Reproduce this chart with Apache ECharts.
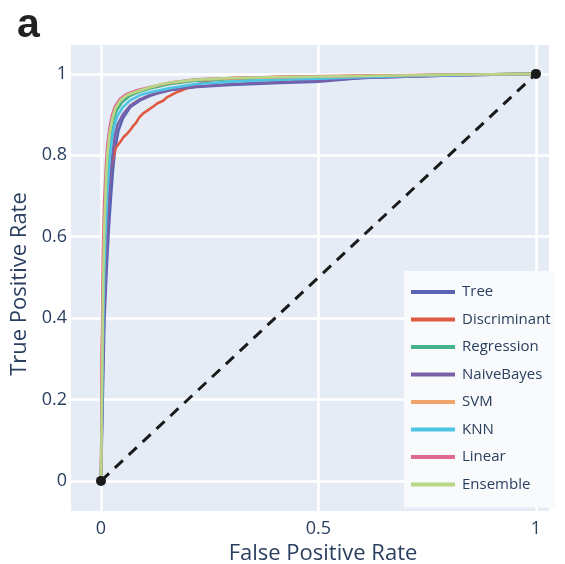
<!DOCTYPE html>
<html>
<head>
<meta charset="utf-8">
<script src="https://cdn.jsdelivr.net/npm/echarts@6/dist/echarts.min.js"></script>
<style>
  html, body { margin: 0; padding: 0; background: #ffffff; }
  #chart { width: 565px; height: 564px; }
</style>
</head>
<body>
<div id="chart"></div>
<script>
// ROC curves of eight classifiers: false positive rate (x) vs true positive rate (y)
const seriesNames = ['Tree', 'Discriminant', 'Regression', 'NaiveBayes', 'SVM', 'KNN', 'Linear', 'Ensemble'];
const seriesColors = ['#5b63b3', '#e05a43', '#45b48a', '#7b60a8', '#f0a36a', '#4ec3e3', '#e0678f', '#b7d787'];

const treeFpr = [0, 0.004, 0.008, 0.013, 0.018, 0.023, 0.028, 0.033, 0.04, 0.05, 0.067, 0.09, 0.113, 0.136, 0.159, 0.22, 0.297, 0.41, 0.5, 0.6, 0.8, 1];
const treeTpr = [0, 0.2, 0.4, 0.52, 0.62, 0.7, 0.77, 0.82, 0.86, 0.89, 0.918, 0.935, 0.946, 0.954, 0.96, 0.968, 0.973, 0.978, 0.981, 0.99, 0.996, 1];

const discriminantFpr = [0, 0.002, 0.005, 0.009, 0.014, 0.02, 0.027, 0.033, 0.037, 0.045, 0.052, 0.06, 0.067, 0.074, 0.08, 0.088, 0.097, 0.108, 0.12, 0.13, 0.143, 0.152, 0.16, 0.172, 0.182, 0.2, 0.22, 0.25, 0.3, 0.41, 0.6, 0.8, 1];
const discriminantTpr = [0, 0.3, 0.5, 0.62, 0.7, 0.75, 0.79, 0.815, 0.823, 0.834, 0.845, 0.853, 0.862, 0.872, 0.879, 0.893, 0.903, 0.911, 0.92, 0.928, 0.934, 0.943, 0.947, 0.954, 0.958, 0.966, 0.974, 0.984, 0.99, 0.993, 0.996, 0.998, 1];

const regressionFpr = [0, 0.003, 0.006, 0.009, 0.013, 0.017, 0.022, 0.028, 0.036, 0.048, 0.065, 0.09, 0.113, 0.159, 0.22, 0.3, 0.41, 0.6, 0.8, 1];
const regressionTpr = [0, 0.28, 0.5, 0.63, 0.74, 0.8, 0.85, 0.885, 0.91, 0.93, 0.945, 0.957, 0.964, 0.975, 0.983, 0.987, 0.99, 0.994, 0.998, 1];

const naiveBayesFpr = [0, 0.003, 0.007, 0.012, 0.016, 0.021, 0.026, 0.031, 0.038, 0.05, 0.067, 0.09, 0.113, 0.159, 0.22, 0.3, 0.41, 0.5, 0.6, 0.8, 1];
const naiveBayesTpr = [0, 0.2, 0.4, 0.55, 0.65, 0.74, 0.8, 0.845, 0.875, 0.9, 0.922, 0.938, 0.948, 0.961, 0.969, 0.975, 0.98, 0.984, 0.99, 0.996, 1];

const svmFpr = [0, 0.002, 0.005, 0.008, 0.012, 0.015, 0.02, 0.026, 0.033, 0.045, 0.06, 0.085, 0.113, 0.159, 0.22, 0.3, 0.41, 0.6, 0.8, 1];
const svmTpr = [0, 0.3, 0.52, 0.66, 0.76, 0.81, 0.858, 0.893, 0.916, 0.936, 0.948, 0.958, 0.967, 0.978, 0.986, 0.989, 0.991, 0.995, 0.998, 1];

const knnFpr = [0, 0.003, 0.006, 0.01, 0.014, 0.019, 0.024, 0.03, 0.038, 0.05, 0.067, 0.09, 0.113, 0.159, 0.22, 0.3, 0.41, 0.5, 0.6, 0.8, 1];
const knnTpr = [0, 0.25, 0.45, 0.6, 0.7, 0.78, 0.835, 0.87, 0.897, 0.918, 0.935, 0.948, 0.955, 0.965, 0.975, 0.981, 0.986, 0.988, 0.992, 0.997, 1];

const linearFpr = [0, 0.002, 0.004, 0.007, 0.011, 0.014, 0.019, 0.025, 0.032, 0.043, 0.058, 0.082, 0.113, 0.159, 0.22, 0.3, 0.41, 0.6, 0.8, 1];
const linearTpr = [0, 0.32, 0.55, 0.68, 0.77, 0.82, 0.865, 0.898, 0.92, 0.938, 0.95, 0.96, 0.968, 0.979, 0.987, 0.99, 0.992, 0.995, 0.998, 1];

const ensembleFpr = [0, 0.003, 0.005, 0.008, 0.012, 0.015, 0.02, 0.026, 0.033, 0.045, 0.06, 0.085, 0.113, 0.136, 0.159, 0.22, 0.3, 0.41, 0.6, 0.8, 1];
const ensembleTpr = [0, 0.3, 0.5, 0.64, 0.75, 0.805, 0.855, 0.89, 0.915, 0.936, 0.948, 0.958, 0.967, 0.974, 0.979, 0.986, 0.99, 0.992, 0.995, 0.998, 1];

// chance line
const chanceFpr = [0, 1];
const chanceTpr = [0, 1];

// tick labels
const xTicks = [0, 0.5, 1];
const yTicks = [0, 0.2, 0.4, 0.6, 0.8, 1];

const curves = [
  [treeFpr, treeTpr],
  [discriminantFpr, discriminantTpr],
  [regressionFpr, regressionTpr],
  [naiveBayesFpr, naiveBayesTpr],
  [svmFpr, svmTpr],
  [knnFpr, knnTpr],
  [linearFpr, linearTpr],
  [ensembleFpr, ensembleTpr]
];

const pair = (xs, ys) => xs.map((x, i) => [x, ys[i]]);

const textColor = '#2a3f5f';
const fontFamily = '"Open Sans", "Noto Sans", sans-serif';

const series = [{
  name: 'chance',
  type: 'line',
  data: pair(chanceFpr, chanceTpr),
  symbol: 'circle',
  symbolSize: 10,
  showSymbol: true,
  itemStyle: { color: '#1a1a1a' },
  lineStyle: { color: '#1a1a1a', width: 3, type: [11, 8] },
  z: 3,
  silent: true
}];

curves.forEach(([xs, ys], i) => {
  series.push({
    name: seriesNames[i],
    type: 'line',
    data: pair(xs, ys),
    showSymbol: false,
    symbol: 'none',
    color: seriesColors[i],
    lineStyle: { width: 2.6, color: seriesColors[i] },
    z: 2
  });
});

const chart = echarts.init(document.getElementById('chart'), null, { renderer: 'canvas' });
chart.setOption({
  animation: false,
  backgroundColor: '#ffffff',
  title: {
    text: 'a',
    left: 12,
    top: 0,
    textStyle: { fontSize: 41, fontWeight: 'bold', color: '#222222', fontFamily: '"Liberation Sans", Arial, sans-serif' }
  },
  grid: {
    left: 71, top: 45, width: 478, height: 466,
    show: true, backgroundColor: '#e5ecf6', borderWidth: 0,
    containLabel: false,
    outerBoundsMode: 'none'
  },
  xAxis: {
    type: 'value',
    min: -0.069, max: 1.03,
    name: 'False Positive Rate',
    nameLocation: 'middle',
    nameGap: 27,
    nameTextStyle: { fontSize: 22, color: textColor, fontFamily: fontFamily, padding: [0, 0, 0, 26] },
    axisLine: { show: false },
    axisTick: { show: false, customValues: xTicks },
    axisLabel: { customValues: xTicks, fontSize: 18, color: textColor, fontFamily: fontFamily, margin: 9 },
    splitLine: { show: true, lineStyle: { color: '#ffffff', width: 2.5 } }
  },
  yAxis: {
    type: 'value',
    min: -0.074, max: 1.071,
    name: 'True Positive Rate',
    nameLocation: 'middle',
    nameGap: 36,
    nameRotate: 90,
    nameTextStyle: { fontSize: 22, color: textColor, fontFamily: fontFamily, padding: [0, 12, 0, 0] },
    axisLine: { show: false },
    axisTick: { show: false, customValues: yTicks },
    axisLabel: { customValues: yTicks, fontSize: 18, color: textColor, fontFamily: fontFamily, margin: 4 },
    splitLine: { show: true, lineStyle: { color: '#ffffff', width: 2.5 } }
  },
  legend: {
    data: seriesNames,
    orient: 'vertical',
    left: 404,
    top: 271,
    backgroundColor: '#f9fafc',
    padding: [13, 4, 15, 7],
    itemWidth: 44,
    itemHeight: 4,
    itemGap: 11.5,
    icon: 'rect',
    textStyle: { fontSize: 15, color: textColor, fontFamily: fontFamily, lineHeight: 16, padding: [0, 0, 0, 2] }
  },
  series: series
});
</script>
</body>
</html>
